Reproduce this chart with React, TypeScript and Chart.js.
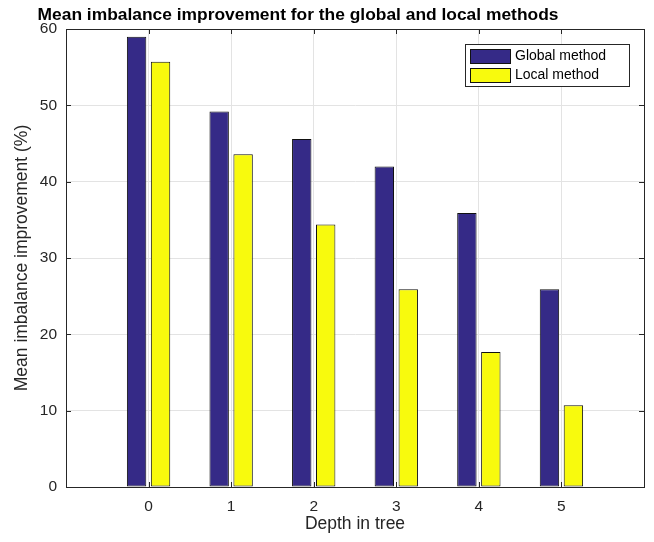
import React, { useEffect, useRef } from 'react';
import { Chart, registerables } from 'chart.js';

Chart.register(...registerables);

// ---- data ----
const depthLabels = ['-1', '0', '1', '2', '3', '4', '5', '6'];
const globalValues = [null, 59.0, 49.2, 45.6, 42.0, 35.9, 25.9, null];
const localValues = [null, 55.7, 43.6, 34.4, 25.9, 17.7, 10.7, null];
const seriesNames = ['Global method', 'Local method'];
const yMin = 0;
const yMax = 60;
const yStep = 10;
const chartTitle = 'Mean imbalance improvement for the global and local methods';
const xAxisTitle = 'Depth in tree';
const yAxisTitle = 'Mean imbalance improvement (%)';

const FONT = "'Liberation Sans', Arial, Helvetica, sans-serif";
const AXIS_COLOR = '#262626';
const GRID_COLOR = '#e3e3e3';
const GLOBAL_COLOR = 'rgb(53,42,135)';
const LOCAL_COLOR = 'rgb(248,250,13)';
const EDGE_COLOR = '#111111';

const boxPlugin = {
  id: 'matlabBox',
  afterDatasetsDraw(chart: any) {
    const { ctx, chartArea: a, scales } = chart;
    ctx.save();
    ctx.strokeStyle = AXIS_COLOR;
    ctx.lineWidth = 1;
    const tl = 5;
    const xs = scales.x;
    xs.ticks.forEach((t: any, i: number) => {
      const px = Math.round(xs.getPixelForTick(i)) + 0.5;
      ctx.beginPath();
      ctx.moveTo(px, a.bottom);
      ctx.lineTo(px, a.bottom - tl);
      ctx.moveTo(px, a.top);
      ctx.lineTo(px, a.top + tl);
      ctx.stroke();
    });
    const ys = scales.y;
    ys.ticks.forEach((t: any, i: number) => {
      const py = Math.round(ys.getPixelForTick(i)) + 0.5;
      ctx.beginPath();
      ctx.moveTo(a.left, py);
      ctx.lineTo(a.left + tl, py);
      ctx.moveTo(a.right, py);
      ctx.lineTo(a.right - tl, py);
      ctx.stroke();
    });
    ctx.strokeRect(Math.round(a.left) + 0.5, Math.round(a.top) + 0.5, Math.round(a.right - a.left), Math.round(a.bottom - a.top));
    ctx.restore();
  },
  afterDraw(chart: any) {
    const { ctx, chartArea: a } = chart;
    ctx.save();
    ctx.fillStyle = '#000';
    ctx.font = `bold 17.4px ${FONT}`;
    ctx.textAlign = 'center';
    ctx.textBaseline = 'alphabetic';
    ctx.fillText(chartTitle, 298, 20);

    const bx = a.right - 179;
    const by = a.top + 15;
    const bw = 164;
    const bh = 42;
    ctx.fillStyle = '#fff';
    ctx.fillRect(bx, by, bw, bh);
    ctx.strokeStyle = AXIS_COLOR;
    ctx.lineWidth = 1;
    ctx.strokeRect(Math.round(bx) + 0.5, Math.round(by) + 0.5, bw, bh);
    chart.data.datasets.forEach((ds: any, i: number) => {
      const sy = by + 5 + i * 19;
      ctx.fillStyle = ds.backgroundColor;
      ctx.fillRect(bx + 5, sy, 40, 14);
      ctx.strokeStyle = EDGE_COLOR;
      ctx.strokeRect(Math.round(bx + 5) + 0.5, Math.round(sy) + 0.5, 40, 14);
      ctx.fillStyle = '#000';
      ctx.font = `14px ${FONT}`;
      ctx.textAlign = 'left';
      ctx.textBaseline = 'middle';
      ctx.fillText(ds.label, bx + 50, sy + 7.5);
    });
    ctx.restore();
  },
};

export default function App() {
  const ref = useRef<HTMLCanvasElement | null>(null);

  useEffect(() => {
    document.body.style.margin = '0';
    const canvas = ref.current;
    if (!canvas) return;
    const chart = new Chart(canvas, {
      type: 'bar',
      data: {
        labels: depthLabels,
        datasets: [
          {
            label: seriesNames[0],
            data: globalValues,
            backgroundColor: GLOBAL_COLOR,
            borderColor: EDGE_COLOR,
            borderWidth: 1,
            borderSkipped: false,
          },
          {
            label: seriesNames[1],
            data: localValues,
            backgroundColor: LOCAL_COLOR,
            borderColor: EDGE_COLOR,
            borderWidth: 1,
            borderSkipped: false,
          },
        ],
      },
      options: {
        animation: false,
        responsive: false,
        maintainAspectRatio: false,
        devicePixelRatio: 1,
        categoryPercentage: 0.58,
        barPercentage: 0.81,
        layout: { padding: { top: 29, right: 10, left: 0, bottom: 0 } },
        plugins: {
          legend: { display: false },
          title: { display: false },
          tooltip: { enabled: false },
        },
        scales: {
          x: {
            type: 'category',
            offset: false,
            grid: { color: GRID_COLOR, drawTicks: false, lineWidth: 1, offset: false },
            border: { display: true, color: AXIS_COLOR },
            ticks: {
              color: AXIS_COLOR,
              font: { family: FONT, size: 15.5 },
              padding: 10,
              autoSkip: false,
              maxRotation: 0,
              callback: function (this: any, v: any, i: number) {
                return i === 0 || i === depthLabels.length - 1 ? '' : depthLabels[i];
              },
            },
            title: {
              display: true,
              text: xAxisTitle,
              color: AXIS_COLOR,
              font: { family: FONT, size: 17.5 },
              padding: { top: 0, bottom: 7 },
            },
            afterFit: (s: any) => {
              s.height = 55;
            },
          },
          y: {
            min: yMin,
            max: yMax,
            grid: { color: GRID_COLOR, drawTicks: false, lineWidth: 1 },
            border: { display: true, color: AXIS_COLOR },
            ticks: {
              stepSize: yStep,
              color: AXIS_COLOR,
              font: { family: FONT, size: 15.5 },
              padding: 9,
            },
            title: {
              display: true,
              text: yAxisTitle,
              color: AXIS_COLOR,
              font: { family: FONT, size: 17.5 },
              padding: { top: 12, bottom: 0 },
            },
            afterFit: (s: any) => {
              s.width = 66;
            },
          },
        },
      },
      plugins: [boxPlugin],
    } as any);
    return () => chart.destroy();
  }, []);

  return (
    <div style={{ width: 654, height: 542, background: '#fff' }}>
      <canvas ref={ref} width={654} height={542} style={{ display: 'block' }} />
    </div>
  );
}
